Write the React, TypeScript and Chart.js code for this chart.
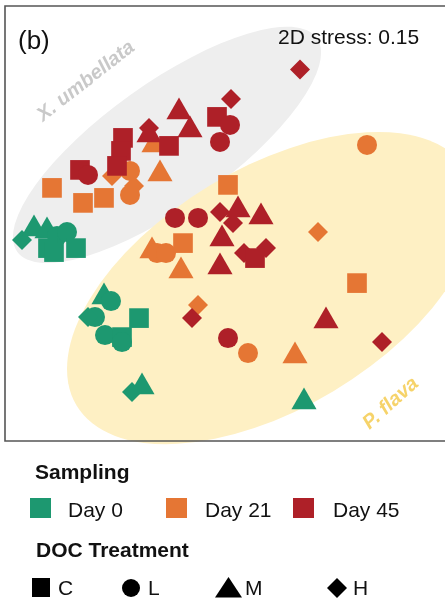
import { useEffect, useRef } from 'react';
import { Chart, registerables } from 'chart.js';

Chart.register(...registerables);

const FONT = '"Liberation Sans", Arial, Helvetica, sans-serif';

// Sampling days and their colours
const DAYS = ['Day 0', 'Day 21', 'Day 45'];
const DAY_COLORS = ['#1d9870', '#e57634', '#ae2028'];

// DOC treatment levels, drawn as marker shapes
const DOC_LEVELS = ['C', 'L', 'M', 'H'];

// NMDS scores, Day 0
const DAY0_NMDS1 = [-1.015, -0.955, -0.89, -0.84, -0.79, -0.885, -0.855, -0.745, -0.605, -0.57, -0.65, -0.685, -0.43, -0.6, -0.515, -0.515, -0.415, -0.465, 0.395];
const DAY0_NMDS2 = [-0.083, -0.028, -0.038, -0.063, -0.043, -0.123, -0.143, -0.123, -0.368, -0.388, -0.468, -0.468, -0.473, -0.558, -0.568, -0.593, -0.818, -0.843, -0.893];
const DAY0_DOC = ['H', 'M', 'M', 'L', 'L', 'C', 'C', 'C', 'M', 'L', 'L', 'H', 'C', 'L', 'C', 'L', 'M', 'H', 'M'];

// NMDS scores, Day 21
const DAY21_NMDS1 = [-0.865, -0.71, -0.605, -0.475, -0.565, -0.475, -0.455, -0.325, -0.355, 0.015, -0.365, -0.34, -0.295, -0.21, -0.22, 0.465, 0.66, -0.135, 0.115, 0.35, 0.71];
const DAY21_NMDS2 = [0.178, 0.103, 0.128, 0.143, 0.238, 0.263, 0.188, 0.248, 0.393, 0.193, -0.138, -0.148, -0.148, -0.098, -0.238, -0.043, -0.298, -0.408, -0.648, -0.663, 0.393];
const DAY21_DOC = ['C', 'C', 'C', 'L', 'H', 'L', 'H', 'M', 'M', 'C', 'M', 'L', 'L', 'C', 'M', 'H', 'C', 'H', 'L', 'M', 'L'];

// NMDS scores, Day 45
const DAY45_NMDS1 = [0.375, 0.03, -0.38, -0.23, -0.175, -0.38, -0.04, -0.28, -0.51, -0.52, -0.54, -0.725, 0.025, -0.025, -0.685, -0.25, -0.135, 0.015, -0.025, 0.04, 0.095, 0.205, -0.165, 0.785, 0.065, 0.18, -0.015, -0.025, 0.505, 0.15];
const DAY45_NMDS2 = [0.77, 0.623, 0.478, 0.558, 0.468, 0.443, 0.533, 0.388, 0.428, 0.363, 0.288, 0.268, 0.493, 0.408, 0.243, 0.028, 0.028, -0.573, 0.058, 0.003, -0.148, -0.123, -0.473, -0.593, 0.068, 0.033, -0.078, -0.218, -0.488, -0.173];
const DAY45_DOC = ['H', 'H', 'H', 'M', 'M', 'M', 'C', 'C', 'C', 'C', 'C', 'C', 'L', 'L', 'L', 'L', 'L', 'L', 'H', 'H', 'H', 'H', 'H', 'H', 'M', 'M', 'M', 'M', 'M', 'C'];

// Species ellipses (centre, semi-axes and tilt in NMDS units / degrees)
const SPECIES = ['X. umbellata', 'P. flava'];
const SPECIES_FILL = ['#eeeeee', '#fef0c4'];
const SPECIES_TEXT = ['#c9c9c9', '#f6d36a'];
const ELLIPSE_CX = [-0.29, 0.235];
const ELLIPSE_CY = [0.393, -0.323];
const ELLIPSE_A = [0.92, 1.14];
const ELLIPSE_B = [0.31, 0.6];
const ELLIPSE_ANGLE = [35.5, 31];

const STRESS = 0.15;

const SHAPE: Record<string, string> = { C: 'rect', L: 'circle', M: 'triangle', H: 'rectRot' };
const SIZE: Record<string, number> = { C: 13.9, L: 10, M: 14.5, H: 10 };

function makeSet(label: string, color: string, xs: number[], ys: number[], doc: string[]) {
  return {
    label,
    data: xs.map((v, i) => ({ x: v, y: ys[i] })),
    pointStyle: doc.map((d) => SHAPE[d]),
    pointRadius: doc.map((d) => SIZE[d]),
    pointHoverRadius: doc.map((d) => SIZE[d]),
    backgroundColor: color,
    borderColor: color,
    pointBorderWidth: 0,
    borderWidth: 0,
    showLine: false,
    clip: false,
  };
}

const ellipsePlugin = {
  id: 'speciesEllipses',
  beforeDatasetsDraw(chart: any) {
    const { ctx, scales } = chart;
    const sx = scales.x;
    const sy = scales.y;
    const ux = sx.getPixelForValue(1) - sx.getPixelForValue(0);
    const uy = sy.getPixelForValue(0) - sy.getPixelForValue(1);
    ctx.save();
    SPECIES.forEach((_, i) => {
      ctx.beginPath();
      ctx.ellipse(
        sx.getPixelForValue(ELLIPSE_CX[i]),
        sy.getPixelForValue(ELLIPSE_CY[i]),
        ELLIPSE_A[i] * ux,
        ELLIPSE_B[i] * uy,
        (-ELLIPSE_ANGLE[i] * Math.PI) / 180,
        0,
        Math.PI * 2
      );
      ctx.fillStyle = SPECIES_FILL[i];
      ctx.fill();
    });
    ctx.restore();
  },
};

// species names, panel tag, stress value and the panel frame
const annotationPlugin = {
  id: 'panelAnnotations',
  afterDatasetsDraw(chart: any) {
    const { ctx, chartArea, scales } = chart;
    const { left, top, right, bottom } = chartArea;
    ctx.save();

    const labelPos = [
      { x: -0.91, y: 0.508, rot: 38 },
      { x: 0.722, y: -1.033, rot: 42 },
    ];
    SPECIES.forEach((name, i) => {
      const p = labelPos[i];
      ctx.save();
      ctx.translate(scales.x.getPixelForValue(p.x), scales.y.getPixelForValue(p.y));
      ctx.rotate((-p.rot * Math.PI) / 180);
      ctx.font = `italic bold 20px ${FONT}`;
      ctx.fillStyle = SPECIES_TEXT[i];
      ctx.textBaseline = 'alphabetic';
      ctx.textAlign = 'left';
      ctx.fillText(name, 0, 0);
      ctx.restore();
    });

    ctx.fillStyle = '#111111';
    ctx.textBaseline = 'alphabetic';
    ctx.textAlign = 'left';
    ctx.font = `26px ${FONT}`;
    ctx.fillText('(b)', left + 13, top + 42.5);
    ctx.font = `21px ${FONT}`;
    ctx.fillText(`2D stress: ${STRESS.toFixed(2)}`, left + 273, top + 38);

    ctx.strokeStyle = '#555555';
    ctx.lineWidth = 1.6;
    ctx.beginPath();
    ctx.moveTo(right + 2, top);
    ctx.lineTo(left, top);
    ctx.lineTo(left, bottom);
    ctx.lineTo(right + 2, bottom);
    ctx.stroke();
    ctx.restore();
  },
};

function Txt({ x, base, size, bold, children }: { x: number; base: number; size: number; bold?: boolean; children: any }) {
  return (
    <div
      style={{
        position: 'absolute',
        left: x,
        top: base - 0.8465 * size,
        fontFamily: FONT,
        fontSize: size,
        lineHeight: `${size}px`,
        fontWeight: bold ? 'bold' : 'normal',
        color: '#111111',
        whiteSpace: 'nowrap',
      }}
    >
      {children}
    </div>
  );
}

export default function App() {
  const canvasRef = useRef<HTMLCanvasElement | null>(null);

  useEffect(() => {
    const canvas = canvasRef.current;
    if (!canvas) return;
    const chart = new Chart(canvas, {
      type: 'scatter',
      data: {
        datasets: [
          makeSet(DAYS[2], DAY_COLORS[2], DAY45_NMDS1, DAY45_NMDS2, DAY45_DOC),
          makeSet(DAYS[1], DAY_COLORS[1], DAY21_NMDS1, DAY21_NMDS2, DAY21_DOC),
          makeSet(DAYS[0], DAY_COLORS[0], DAY0_NMDS1, DAY0_NMDS2, DAY0_DOC),
        ] as any,
      },
      options: {
        animation: false,
        responsive: false,
        devicePixelRatio: 1,
        layout: { autoPadding: false, padding: { left: 5, top: 6, right: 0, bottom: 159 } },
        scales: {
          x: { type: 'linear', min: -1.1, max: 1.1, display: false },
          y: { type: 'linear', min: -1.0875, max: 1.0875, display: false },
        },
        plugins: {
          legend: { display: false },
          tooltip: { enabled: false },
        },
        events: [],
      } as any,
      plugins: [ellipsePlugin, annotationPlugin],
    });
    return () => chart.destroy();
  }, []);

  const swatchX = [30, 166, 293];
  const labelX = [68, 205, 333];
  const docTextX = [58, 148, 245, 353];

  return (
    <div style={{ position: 'absolute', left: 0, top: 0, width: 445, height: 600, background: '#ffffff', overflow: 'hidden' }}>
      <canvas ref={canvasRef} width={445} height={600} style={{ position: 'absolute', left: 0, top: 0 }} />
      <Txt x={35} base={479} size={21} bold>Sampling</Txt>
      {DAYS.map((d, i) => (
        <div key={d}>
          <div style={{ position: 'absolute', left: swatchX[i], top: 498, width: 21, height: 20, background: DAY_COLORS[i] }} />
          <Txt x={labelX[i]} base={517} size={21}>{d}</Txt>
        </div>
      ))}
      <Txt x={36} base={557} size={21} bold>DOC Treatment</Txt>
      <svg width={445} height={600} style={{ position: 'absolute', left: 0, top: 0 }}>
        <rect x={32} y={578} width={18} height={19} fill="#000" />
        <circle cx={131} cy={588} r={9} fill="#000" />
        <polygon points="215,597.5 242,597.5 228.5,577" fill="#000" />
        <polygon points="327,588 337,578 347,588 337,598" fill="#000" />
      </svg>
      {DOC_LEVELS.map((d, i) => (
        <Txt key={d} x={docTextX[i]} base={595} size={21}>{d}</Txt>
      ))}
    </div>
  );
}
